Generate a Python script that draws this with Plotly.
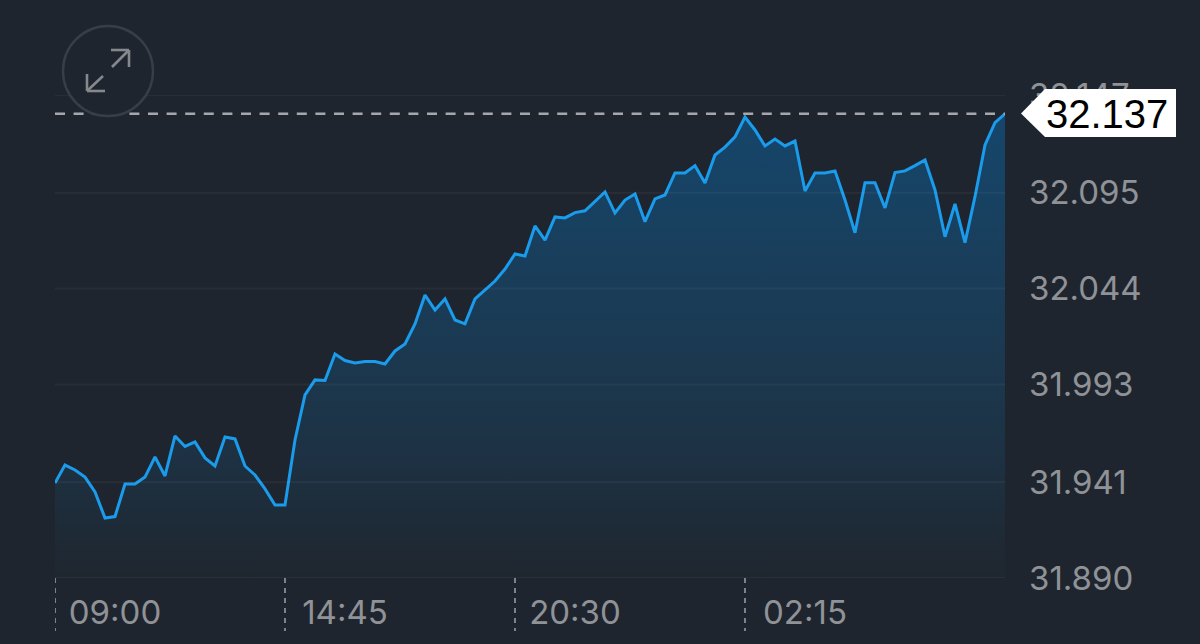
import plotly.graph_objects as go

W, H = 1200, 644
L, R, T, B = 55, 1005, 95, 578

prices = [
    31.9405, 31.9501, 31.9475, 31.9437, 31.9358, 31.9219, 31.9227, 31.9400,
    31.9400, 31.9437, 31.9544, 31.9443, 31.9656, 31.9600, 31.9624, 31.9539,
    31.9496, 31.9650, 31.9640, 31.9496, 31.9448, 31.9374, 31.9288, 31.9288,
    31.9634, 31.9874, 31.9954, 31.9951, 32.0092, 32.0057, 32.0044, 32.0052,
    32.0052, 32.0039, 32.0108, 32.0145, 32.0252, 32.0406, 32.0326, 32.0385,
    32.0273, 32.0252, 32.0385, 32.0432, 32.0480, 32.0544, 32.0624, 32.0613,
    32.0773, 32.0698, 32.0821, 32.0816, 32.0844, 32.0854, 32.0902, 32.0954,
    32.0842, 32.0911, 32.0943, 32.0796, 32.0917, 32.0938, 32.1055, 32.1055,
    32.1094, 32.1002, 32.1151, 32.1193, 32.1247, 32.1353, 32.1284, 32.1199,
    32.1236, 32.1199, 32.1225, 32.0959, 32.1055, 32.1055, 32.1066, 32.0911,
    32.0737, 32.1003, 32.1003, 32.0869, 32.1057, 32.1066, 32.1094, 32.1124,
    32.0965, 32.0716, 32.0890, 32.0684, 32.0929, 32.1204, 32.1323, 32.1370,
]
steps = list(range(len(prices)))
time_ticks = [0, 23, 46, 69]
time_labels = ["09:00", "14:45", "20:30", "02:15"]
price_ticks = [31.890, 31.941, 31.993, 32.044, 32.095, 32.147]
price_labels = ["31.890", "31.941", "31.993", "32.044", "32.095", "32.147"]
last_price = 32.137
last_label = "32.137"

BG = "#1f252e"
GRID = "rgba(255,255,255,0.045)"
MUTED = "#8f9296"
TICK_FONT = "Inter, Liberation Sans, sans-serif"
LABEL_FONT = "Liberation Sans, Arial, sans-serif"


def to_plot_x(v):
    return (v - L) / (R - L)


def to_plot_y(v):
    return (B - v) / (B - T)


def segment(x0, y0, x1, y1, color, width, dash="solid"):
    return dict(
        type="line", xref="paper", yref="paper",
        x0=to_plot_x(x0), x1=to_plot_x(x1), y0=to_plot_y(y0), y1=to_plot_y(y1),
        line=dict(color=color, width=width, dash=dash), layer="above",
    )


shapes = []
for p in price_ticks:
    shapes.append(dict(
        type="line", xref="x", yref="y", x0=steps[0], x1=steps[-1], y0=p, y1=p,
        line=dict(color=GRID, width=2), layer="above",
    ))
for t in time_ticks:
    shapes.append(dict(
        type="line", xref="x", yref="paper", x0=t, x1=t,
        y0=to_plot_y(578), y1=to_plot_y(631),
        line=dict(color="#a8abaf", width=1.4, dash="5px,5px"), layer="above",
    ))
shapes.append(dict(
    type="line", xref="x", yref="y", x0=steps[0], x1=steps[-1],
    y0=last_price, y1=last_price,
    line=dict(color="#a5a7ab", width=2.4, dash="10px,8.6px"), layer="above",
))
shapes.append(dict(
    type="circle", xref="paper", yref="paper",
    x0=to_plot_x(63), x1=to_plot_x(153), y0=to_plot_y(116), y1=to_plot_y(26),
    fillcolor=BG, line=dict(color="#393e46", width=2.4), layer="above",
))
for seg in [(111, 50, 129, 50), (129, 50, 129, 67), (129, 50, 112, 67),
            (87, 91, 105, 91), (87, 91, 87, 74), (87, 91, 103, 76)]:
    shapes.append(segment(*seg, "#85888d", 2.6))
shapes.append(dict(
    type="path", xref="paper", yref="paper",
    path=(f"M {to_plot_x(1021)} {to_plot_y(113.5)} "
          f"L {to_plot_x(1045)} {to_plot_y(89)} "
          f"L {to_plot_x(1176)} {to_plot_y(89)} "
          f"L {to_plot_x(1176)} {to_plot_y(137)} "
          f"L {to_plot_x(1045)} {to_plot_y(137)} Z"),
    fillcolor="#ffffff", line=dict(width=0), layer="above",
))

fig = go.Figure()
fig.add_trace(go.Scatter(
    x=steps, y=prices, mode="lines",
    line=dict(color="#1a9bec", width=3, shape="linear"),
    fill="tozeroy",
    fillgradient=dict(
        type="vertical", start=31.890, stop=last_price,
        colorscale=[[0, "#1f262f"], [0.25, "#1d3142"], [0.6, "#1a3c57"], [1, "#15466b"]],
    ),
    hoverinfo="skip", showlegend=False,
))
fig.update_layout(
    width=W, height=H, autosize=False,
    paper_bgcolor=BG, plot_bgcolor=BG,
    margin=dict(l=L, r=W - R, t=T, b=H - B, autoexpand=False),
    showlegend=False,
    font=dict(family=TICK_FONT, color=MUTED),
    shapes=shapes,
    xaxis=dict(
        range=[steps[0], steps[-1]], tickmode="array",
        tickvals=time_ticks, ticktext=time_labels,
        tickfont=dict(size=33, color=MUTED, family=TICK_FONT),
        ticklen=0, ticklabelshift=60, ticklabelstandoff=12,
        showgrid=False, zeroline=False, showline=False,
    ),
    yaxis=dict(
        side="right", range=[31.890, 32.147], tickmode="array",
        tickvals=price_ticks, ticktext=price_labels,
        tickfont=dict(size=33, color=MUTED, family=TICK_FONT),
        ticklen=0, ticklabelstandoff=23,
        showgrid=False, zeroline=False, showline=False,
    ),
    annotations=[dict(
        xref="paper", yref="y", x=to_plot_x(1107), y=last_price,
        text=last_label, showarrow=False, xanchor="center", yanchor="middle",
        font=dict(size=40, color="#000000", family=LABEL_FONT),
    )],
)
fig.write_html(
    "out.html",
    config=dict(displayModeBar=False),
    post_script="document.body.style.margin='0';document.body.style.background='" + BG + "';",
)
